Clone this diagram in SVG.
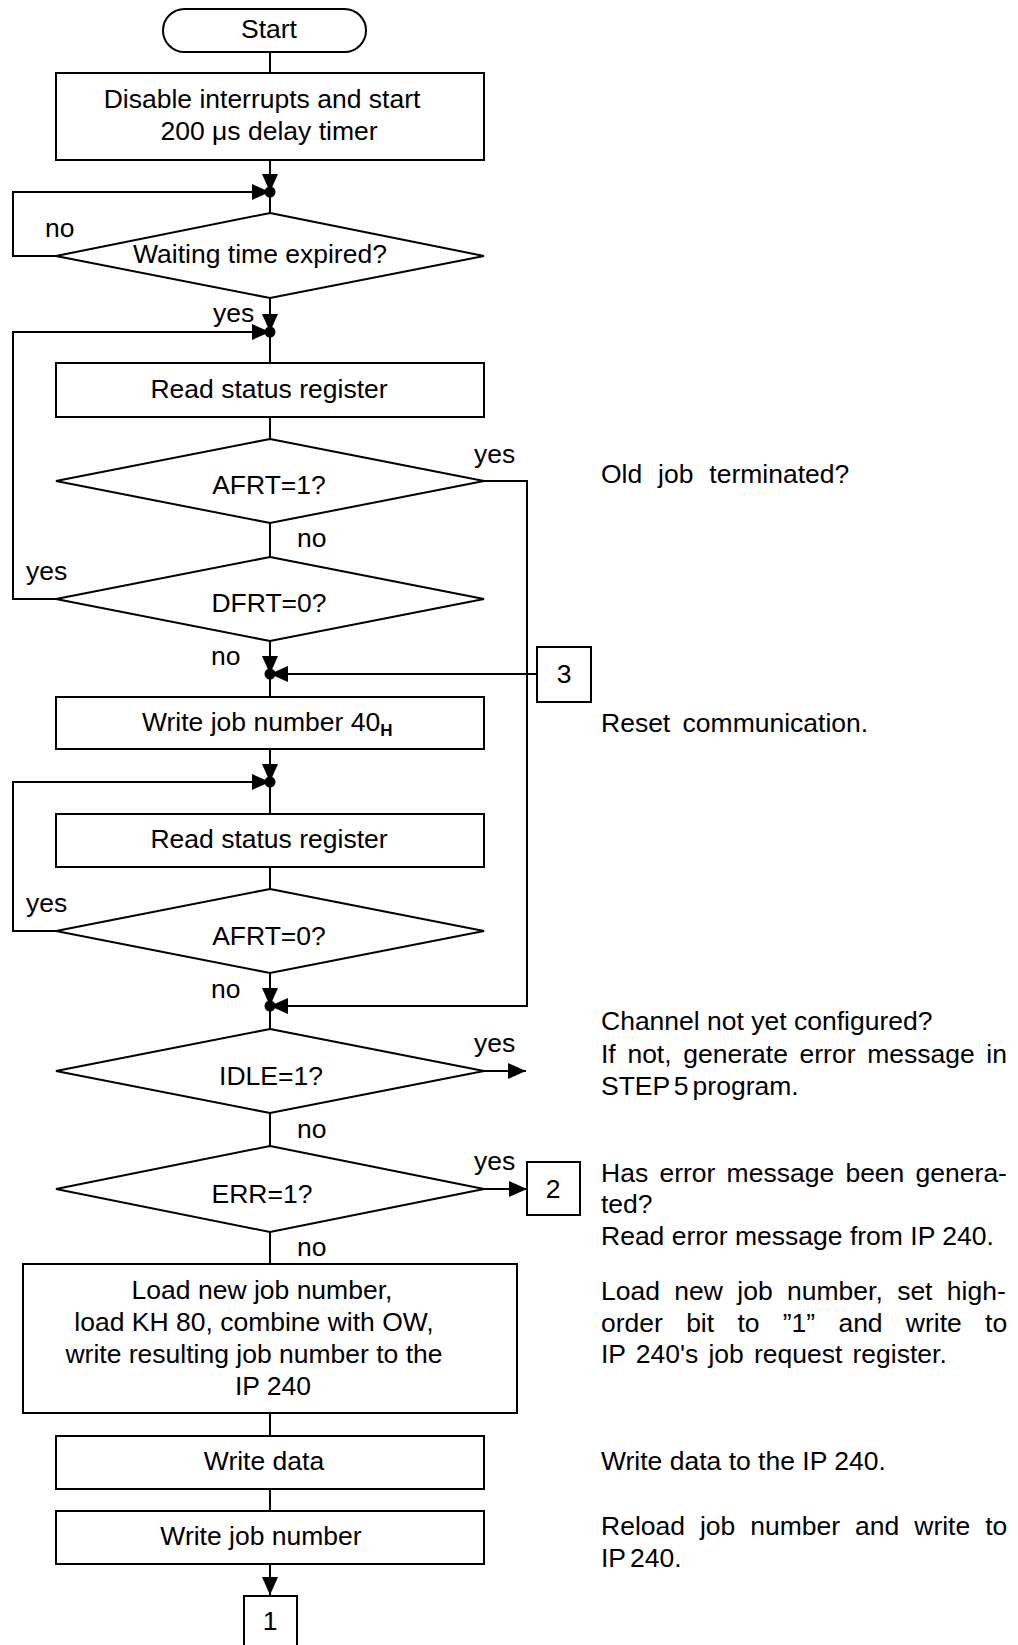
<svg xmlns="http://www.w3.org/2000/svg" width="1018" height="1645" viewBox="0 0 1018 1645">
<style>
  .shape { fill: #ffffff; stroke: #000000; stroke-width: 2; }
  .conn { fill: none; stroke: #000000; stroke-width: 2; }
  .dot { fill: #000000; }
  text { font-family: "Liberation Sans", Arial, sans-serif; font-size: 26.5px; fill: #000000; }
  .c { text-anchor: middle; }
</style>
<defs>
  <marker id="arrow" viewBox="0 0 18 16" refX="18" refY="8" markerWidth="18" markerHeight="16" markerUnits="userSpaceOnUse" orient="auto">
    <path d="M0,0 L18,8 L0,16 Z" fill="#000000"/>
  </marker>
</defs>
<rect width="1018" height="1645" fill="#ffffff"/>

<g id="connectors">
  <path class="conn" d="M270,52 V73"/>
  <path class="conn" d="M270,160 V192" marker-end="url(#arrow)"/>
  <path class="conn" d="M56,256 H13 V192 H270" marker-end="url(#arrow)"/>
  <path class="conn" d="M270,192 V213"/>
  <path class="conn" d="M270,298 V332" marker-end="url(#arrow)"/>
  <path class="conn" d="M270,332 V363"/>
  <path class="conn" d="M270,417 V439"/>
  <path class="conn" d="M270,523 V557"/>
  <path class="conn" d="M56,599 H13 V332 H270" marker-end="url(#arrow)"/>
  <path class="conn" d="M270,641 V674" marker-end="url(#arrow)"/>
  <path class="conn" d="M484,481 H527 V1006 H270" marker-end="url(#arrow)"/>
  <path class="conn" d="M537,674 H270" marker-end="url(#arrow)"/>
  <path class="conn" d="M270,674 V697"/>
  <path class="conn" d="M270,749 V782" marker-end="url(#arrow)"/>
  <path class="conn" d="M56,931 H13 V782 H270" marker-end="url(#arrow)"/>
  <path class="conn" d="M270,782 V814"/>
  <path class="conn" d="M270,867 V889"/>
  <path class="conn" d="M270,973 V1006" marker-end="url(#arrow)"/>
  <path class="conn" d="M270,1006 V1029"/>
  <path class="conn" d="M484,1071 H526" marker-end="url(#arrow)"/>
  <path class="conn" d="M270,1113 V1146"/>
  <path class="conn" d="M484,1189 H527" marker-end="url(#arrow)"/>
  <path class="conn" d="M270,1232 V1264"/>
  <path class="conn" d="M270,1413 V1436"/>
  <path class="conn" d="M270,1489 V1511"/>
  <path class="conn" d="M270,1564 V1595" marker-end="url(#arrow)"/>
  <circle class="dot" cx="270" cy="192" r="5.5"/>
  <circle class="dot" cx="270" cy="332" r="5.5"/>
  <circle class="dot" cx="270" cy="674" r="5.5"/>
  <circle class="dot" cx="270" cy="782" r="5.5"/>
  <circle class="dot" cx="270" cy="1006" r="5.5"/>
  <text x="45" y="237">no</text>
  <text x="213" y="322">yes</text>
  <text x="474" y="463">yes</text>
  <text x="297" y="547">no</text>
  <text x="26" y="580">yes</text>
  <text x="211" y="665">no</text>
  <text x="26" y="912">yes</text>
  <text x="211" y="998">no</text>
  <text x="474" y="1052">yes</text>
  <text x="297" y="1138">no</text>
  <text x="474" y="1170">yes</text>
  <text x="297" y="1256">no</text>
</g>

<g id="start">
  <rect class="shape" x="163" y="9" width="203" height="43" rx="21.5" ry="21.5"/>
  <text class="c" x="269" y="38">Start</text>
</g>
<g id="disable">
  <rect class="shape" x="56" y="73" width="428" height="87"/>
  <text class="c" x="262" y="108">Disable interrupts and start</text>
  <text class="c" x="269" y="140">200 μs delay timer</text>
</g>
<g id="waiting">
  <polygon class="shape" points="270,213 484,256 270,298 56,256"/>
  <text class="c" x="260" y="263">Waiting time expired?</text>
</g>
<g id="read1">
  <rect class="shape" x="56" y="363" width="428" height="54"/>
  <text class="c" x="269" y="398">Read status register</text>
</g>
<g id="afrt1">
  <polygon class="shape" points="270,439 484,481 270,523 56,481"/>
  <text class="c" x="269" y="494">AFRT=1?</text>
</g>
<g id="dfrt0">
  <polygon class="shape" points="270,557 484,599 270,641 56,599"/>
  <text class="c" x="269" y="612">DFRT=0?</text>
</g>
<g id="conn3">
  <rect class="shape" x="537" y="647" width="54" height="55"/>
  <text class="c" x="564" y="683">3</text>
</g>
<g id="write40">
  <rect class="shape" x="56" y="697" width="428" height="52"/>
  <text x="142" y="731">Write job number 40<tspan dy="5" font-size="17" font-weight="bold">H</tspan></text>
</g>
<g id="read2">
  <rect class="shape" x="56" y="814" width="428" height="53"/>
  <text class="c" x="269" y="848">Read status register</text>
</g>
<g id="afrt0">
  <polygon class="shape" points="270,889 484,931 270,973 56,931"/>
  <text class="c" x="269" y="945">AFRT=0?</text>
</g>
<g id="idle">
  <polygon class="shape" points="270,1029 484,1071 270,1113 56,1071"/>
  <text class="c" x="271" y="1085">IDLE=1?</text>
</g>
<g id="err">
  <polygon class="shape" points="270,1146 484,1189 270,1232 56,1189"/>
  <text class="c" x="262" y="1203">ERR=1?</text>
</g>
<g id="conn2">
  <rect class="shape" x="527" y="1162" width="53" height="53"/>
  <text class="c" x="553" y="1198">2</text>
</g>
<g id="loadnew">
  <rect class="shape" x="23" y="1264" width="494" height="149"/>
  <text class="c" x="262" y="1299">Load new job number,</text>
  <text class="c" x="254" y="1331">load KH 80, combine with OW,</text>
  <text class="c" x="254" y="1363">write resulting job number to the</text>
  <text class="c" x="273" y="1395">IP 240</text>
</g>
<g id="writedata">
  <rect class="shape" x="56" y="1436" width="428" height="53"/>
  <text class="c" x="264" y="1470">Write data</text>
</g>
<g id="writejob">
  <rect class="shape" x="56" y="1511" width="428" height="53"/>
  <text class="c" x="261" y="1545">Write job number</text>
</g>
<g id="conn1">
  <rect class="shape" x="244" y="1596" width="53" height="70"/>
  <text class="c" x="270" y="1630">1</text>
</g>

<g id="notes">
  <text x="601" y="483" word-spacing="8.5">Old job terminated?</text>
  <text x="601" y="732" word-spacing="5">Reset communication.</text>
  <text x="601" y="1030">Channel not yet configured?</text>
  <text x="601" y="1063" word-spacing="4.3">If not, generate error message in</text>
  <text x="601" y="1095" word-spacing="-3.3">STEP 5 program.</text>
  <text x="601" y="1182" word-spacing="3.9">Has error message been genera-</text>
  <text x="601" y="1213">ted?</text>
  <text x="601" y="1245">Read error message from IP 240.</text>
  <text x="601" y="1300" word-spacing="7">Load new job number, set high-</text>
  <text x="601" y="1332" word-spacing="15.9">order bit to ”1” and write to</text>
  <text x="601" y="1363" word-spacing="2.8">IP 240's job request register.</text>
  <text x="601" y="1470">Write data to the IP 240.</text>
  <text x="601" y="1535" word-spacing="7.6">Reload job number and write to</text>
  <text x="601" y="1567" word-spacing="-3">IP 240.</text>
</g>
</svg>
